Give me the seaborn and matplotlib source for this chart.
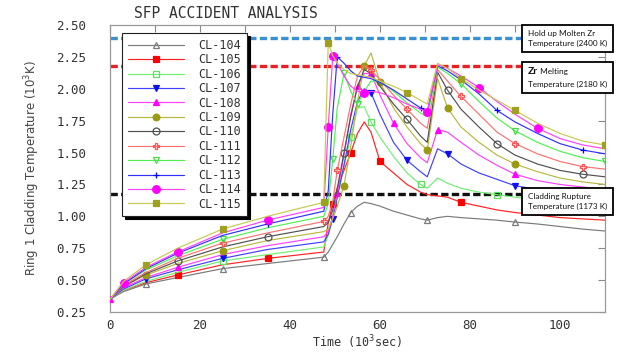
import numpy as np
import pandas as pd
import matplotlib
matplotlib.use("Agg")
import matplotlib.pyplot as plt
from matplotlib.patches import Rectangle
from matplotlib.text import Annotation
import seaborn as sns

# ---------------- data ----------------
time = [0, 3, 8, 15, 25, 35, 47.5, 48.5, 49.5, 50.5, 52, 53.5, 55, 56.5, 58, 60,
        63, 66, 69, 70.5, 72.8, 75, 78, 82, 86, 90, 95, 100, 105, 110]

cl104 = [0.35, 0.41, 0.47, 0.52, 0.59, 0.63, 0.68, 0.72, 0.78, 0.84, 0.94, 1.03, 1.08, 1.11, 1.10,
         1.08, 1.04, 1.01, 0.98, 0.97, 0.99, 1.00, 0.99, 0.98, 0.97, 0.955, 0.94, 0.92, 0.90, 0.885]
cl105 = [0.35, 0.42, 0.48, 0.54, 0.62, 0.67, 0.72, 0.95, 1.10, 1.22, 1.36, 1.50, 1.65, 1.74, 1.66,
         1.43, 1.34, 1.25, 1.19, 1.17, 1.16, 1.15, 1.11, 1.08, 1.05, 1.03, 1.01, 0.99, 0.98, 0.97]
cl106 = [0.35, 0.42, 0.49, 0.56, 0.65, 0.70, 0.76, 0.85, 1.00, 1.15, 1.40, 1.62, 1.85, 1.86, 1.74,
         1.62, 1.47, 1.34, 1.25, 1.22, 1.30, 1.26, 1.22, 1.19, 1.17, 1.15, 1.13, 1.11, 1.10, 1.09]
cl107 = [0.35, 0.43, 0.51, 0.58, 0.67, 0.74, 0.80, 0.86, 0.98, 1.15, 1.40, 1.68, 1.90, 2.00, 1.97,
         1.80, 1.58, 1.44, 1.35, 1.31, 1.53, 1.49, 1.41, 1.34, 1.29, 1.24, 1.21, 1.19, 1.18, 1.17]
cl108 = [0.35, 0.44, 0.52, 0.60, 0.70, 0.77, 0.84, 0.88, 1.00, 1.18, 1.48, 1.80, 2.02, 2.12, 2.12,
         1.95, 1.73, 1.57, 1.46, 1.42, 1.68, 1.66, 1.58, 1.48, 1.40, 1.33, 1.28, 1.25, 1.23, 1.21]
cl109 = [0.35, 0.45, 0.54, 0.63, 0.73, 0.81, 0.88, 0.90, 0.98, 1.08, 1.24, 1.55, 1.90, 2.18, 2.28,
         2.05, 1.85, 1.70, 1.57, 1.52, 2.08, 1.85, 1.70, 1.58, 1.48, 1.41, 1.35, 1.30, 1.27, 1.25]
cl110 = [0.35, 0.45, 0.55, 0.65, 0.76, 0.84, 0.92, 0.95, 1.05, 1.22, 1.50, 1.78, 2.02, 2.15, 2.12,
         2.02, 1.88, 1.76, 1.63, 1.58, 2.13, 1.99, 1.84, 1.70, 1.57, 1.48, 1.41, 1.36, 1.33, 1.31]
cl111 = [0.35, 0.46, 0.56, 0.67, 0.79, 0.87, 0.96, 1.00, 1.12, 1.36, 1.62, 1.88, 2.10, 2.18, 2.15,
         2.07, 1.95, 1.84, 1.73, 1.69, 2.15, 2.06, 1.94, 1.80, 1.66, 1.57, 1.49, 1.43, 1.39, 1.37]
cl112 = [0.35, 0.47, 0.58, 0.69, 0.82, 0.91, 1.00, 1.10, 1.45, 1.85, 2.12, 1.98, 1.88, 1.98, 2.06,
         2.06, 1.98, 1.89, 1.81, 1.78, 2.17, 2.12, 2.04, 1.90, 1.77, 1.67, 1.58, 1.51, 1.46, 1.43]
cl113 = [0.35, 0.47, 0.59, 0.71, 0.85, 0.94, 1.04, 1.20, 1.80, 2.25, 2.20, 2.14, 2.10, 2.09, 2.08,
         2.05, 1.99, 1.92, 1.85, 1.82, 2.18, 2.14, 2.07, 1.96, 1.83, 1.74, 1.65, 1.57, 1.52, 1.49]
cl114 = [0.35, 0.48, 0.60, 0.72, 0.87, 0.97, 1.07, 1.70, 2.26, 2.20, 2.10, 2.02, 1.98, 1.97, 1.98,
         1.97, 1.93, 1.88, 1.84, 1.82, 2.19, 2.16, 2.10, 2.01, 1.90, 1.80, 1.69, 1.61, 1.56, 1.53]
cl115 = [0.35, 0.49, 0.62, 0.75, 0.90, 1.00, 1.11, 2.36, 2.26, 2.20, 2.15, 2.12, 2.11, 2.10, 2.09,
         2.06, 2.02, 1.97, 1.91, 1.88, 2.20, 2.16, 2.08, 1.99, 1.91, 1.83, 1.73, 1.65, 1.59, 1.56]

labels = ["CL-104", "CL-105", "CL-106", "CL-107", "CL-108", "CL-109",
          "CL-110", "CL-111", "CL-112", "CL-113", "CL-114", "CL-115"]
series = [cl104, cl105, cl106, cl107, cl108, cl109, cl110, cl111, cl112, cl113, cl114, cl115]

thresholds = [2.40, 2.18, 1.173]
threshold_text = ["Hold up Molten Zr\nTemperature (2400 K)",
                  "Zr Melting\nTemperature (2180 K)",
                  "Cladding Rupture\nTemperature (1173 K)"]
x_ticks = [0, 20, 40, 60, 80, 100]
y_ticks = [0.25, 0.50, 0.75, 1.00, 1.25, 1.50, 1.75, 2.00, 2.25, 2.50]

# ---------------- styles ----------------
styles = [
    dict(color="#7a7a7a", marker="^", mfc="none", mec="#7a7a7a", ms=4.2, every=[2, 4, 6, 11, 19, 25]),
    dict(color="#ff2020", marker="s", mfc="#ff0000", mec="#ff0000", ms=4.5, every=[3, 5, 8, 11, 15, 22]),
    dict(color="#70f070", marker="s", mfc="none", mec="#60e060", ms=5, every=[4, 11, 14, 18, 24]),
    dict(color="#4040ff", marker="v", mfc="#1010ee", mec="#1010ee", ms=4.5, every=[2, 4, 8, 14, 17, 21, 25]),
    dict(color="#ff40ff", marker="^", mfc="#ff00ff", mec="#ff00ff", ms=4.5, every=[0, 3, 9, 12, 14, 16, 20, 25]),
    dict(color="#b8b840", marker="o", mfc="#9a9a10", mec="#9a9a10", ms=4.8, every=[2, 4, 10, 13, 15, 19, 21, 25]),
    dict(color="#505050", marker="o", mfc="none", mec="#505050", ms=5, every=[3, 5, 10, 17, 21, 24, 28]),
    dict(color="#ff7070", marker="P", mfc="none", mec="#ff5050", ms=5, every=[4, 6, 9, 14, 17, 22, 25, 28]),
    dict(color="#50f050", marker="v", mfc="none", mec="#40e040", ms=5, every=[4, 8, 10, 12, 22, 25, 29]),
    dict(color="#3030ff", marker="+", mfc="#0000ff", mec="#0000ff", ms=4.5, every=[3, 5, 9, 18, 24, 28]),
    dict(color="#ff40ff", marker="o", mfc="#ff00ff", mec="#ff00ff", ms=5.5, every=[1, 3, 5, 7, 8, 13, 19, 23, 26]),
    dict(color="#c8c850", marker="s", mfc="#a0a020", mec="#a0a020", ms=5, every=[2, 4, 6, 7, 17, 22, 25, 29]),
]

sns.set_theme(style="white")
plt.rcParams["font.family"] = ["DejaVu Sans Mono", "DejaVu Sans"]

fig = plt.figure(figsize=(6.17, 3.54), dpi=100)
ax = fig.add_axes([110 / 617, 1 - 312 / 354, 495 / 617, 287 / 354])

thr_colors = ["#3a8fd0", "#e82020", "#111111"]
for yv, c in zip(thresholds, thr_colors):
    ax.axhline(yv, color=c, lw=2.4, ls=(0, (2.2, 1.0)), zorder=1, clip_on=False)

for lab, vals, st in zip(labels, series, styles):
    df = pd.DataFrame({"t": time, "v": vals})
    sns.lineplot(data=df, x="t", y="v", ax=ax, color=st["color"], lw=0.85,
                 marker=st["marker"], markersize=st["ms"], markerfacecolor=st["mfc"],
                 markeredgecolor=st["mec"], markeredgewidth=0.9,
                 markevery=st["every"], label=lab, sort=False, zorder=3)

ax.set_xlim(0, 110)
ax.set_ylim(0.25, 2.50)
ax.set_xticks(np.arange(0, 111, 10))
ax.set_xticklabels([str(v) if v in x_ticks else "" for v in np.arange(0, 111, 10)])
ax.set_yticks(y_ticks)
ax.set_yticklabels([f"{v:.2f}" for v in y_ticks])
ax.tick_params(direction="in", length=5, width=0.8, colors="#888888",
               top=True, right=True, labelsize=9, labelcolor="#333333")
ax.tick_params(axis="y", pad=17)
ax.tick_params(axis="x", pad=5)
for sp in ax.spines.values():
    sp.set_color("#999999")
    sp.set_linewidth(0.9)

ax.set_xlabel("Time (10$^3$sec)", fontsize=8.5, color="#333333", labelpad=1)
ax.set_ylabel("Ring 1 Cladding Temperature (10$^3$K)", fontsize=8.5, color="#444444",
              family=["Liberation Sans Narrow", "DejaVu Sans"], labelpad=10)
ax.text(0.235, 1.015, "SFP ACCIDENT ANALYSIS", transform=ax.transAxes, ha="center",
        va="bottom", fontsize=10.5, color="#333333")

leg = ax.legend(loc="upper left", bbox_to_anchor=(0.024, 0.972), borderaxespad=0,
                fontsize=8.5, handlelength=4.8, handletextpad=1.2, labelspacing=0.12,
                numpoints=1, frameon=True, fancybox=False, borderpad=0.5,
                shadow={"color": "black", "alpha": 1.0})
leg.get_frame().set_edgecolor("#222222")
leg.get_frame().set_linewidth(0.8)
leg.set_zorder(10)
for txt in leg.get_texts():
    txt.set_color("#333333")

# threshold text boxes (figure coordinates in pixels)
W, H = 617, 354
boxes = [(522, 25, 91, 27), (522, 62, 91, 31), (522, 188, 91, 27)]
for (bx, by, bw, bh) in boxes:
    fig.add_artist(Rectangle((bx / W, 1 - (by + bh) / H), bw / W, bh / H,
                             transform=fig.transFigure, facecolor="white",
                             edgecolor="black", lw=1.3, zorder=20))
bfont = ["Lato", "DejaVu Sans"]
fs = 5.9
fig.text(528 / W, 1 - 38.5 / H, threshold_text[0], fontsize=fs, family=bfont,
         va="center", ha="left", linespacing=1.5, zorder=21, color="#111111")
t_zr = fig.text(528 / W, 1 - 72 / H, "Zr", fontsize=7.5, weight="bold", family=bfont,
                va="center", ha="left", zorder=21, color="#111111")
mel = Annotation(" Melting", xy=(1, 0.15), xycoords=t_zr, fontsize=fs, family=bfont,
                 va="bottom", ha="left", annotation_clip=False, zorder=21, color="#111111")
fig.add_artist(mel)
fig.text(528 / W, 1 - 84.5 / H, "Temperature (2180 K)", fontsize=fs, family=bfont,
         va="center", ha="left", zorder=21, color="#111111")
fig.text(528 / W, 1 - 201.5 / H, threshold_text[2], fontsize=fs, family=bfont,
         va="center", ha="left", linespacing=1.5, zorder=21, color="#111111")

fig.savefig("out.png", dpi=100)
